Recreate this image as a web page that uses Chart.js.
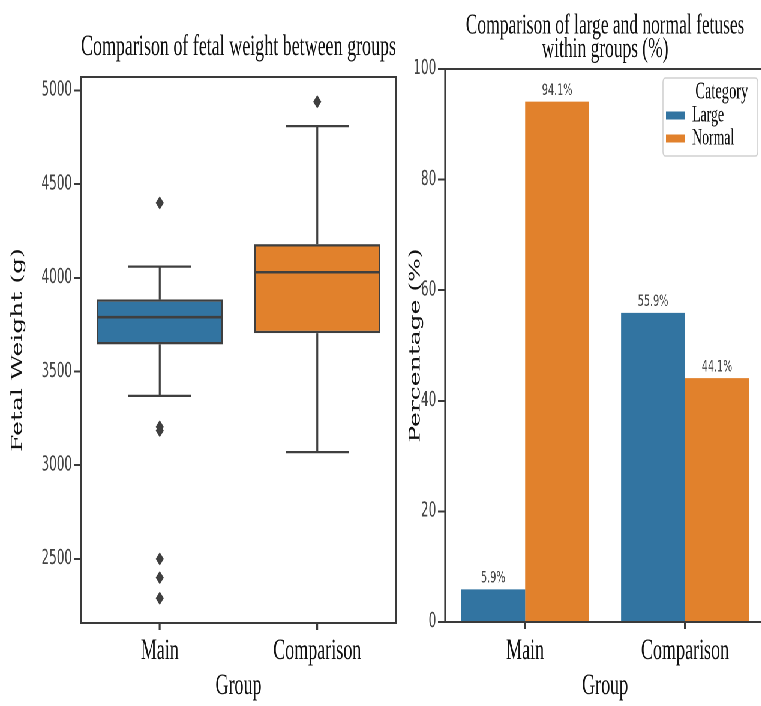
<!DOCTYPE html>
<html>
<head>
<meta charset="utf-8">
<script src="https://cdn.jsdelivr.net/npm/chart.js@4.4.1/dist/chart.umd.min.js"></script>
<style>
  html, body { margin: 0; padding: 0; background: #fff; overflow: hidden; width: 761px; height: 706px; }
  /* the figure is laid out wide and condensed horizontally */
  #figure { position: absolute; left: 0; top: 0; width: 1290px; height: 706px; transform: scaleX(0.6); transform-origin: 0 0; }
  #weightChart { position: absolute; left: 0; top: 0; }
  #shareChart { position: absolute; left: 670px; top: 0; }
</style>
</head>
<body>
<div id="figure">
  <canvas id="weightChart" width="670" height="706"></canvas>
  <canvas id="shareChart" width="620" height="706"></canvas>
</div>
<script>
// ---- data ----
const groups = ['Main', 'Comparison'];

// fetal weight distribution per group (g)
const weightQ1 = [3645, 3705];
const weightMedian = [3790, 4030];
const weightQ3 = [3885, 4180];
const whiskerLow = [3370, 3070];
const whiskerHigh = [4060, 4810];
const mainOutliers = [4400, 3205, 3185, 2500, 2400, 2290];
const comparisonOutliers = [4940];
const weightTicks = [2500, 3000, 3500, 4000, 4500, 5000];

// share of large / normal fetuses per group (%)
const sizeCategories = ['Large', 'Normal'];
const largeShare = [5.9, 55.9];
const normalShare = [94.1, 44.1];
const shareTicks = [0, 20, 40, 60, 80, 100];

// ---- styling ----
const BLUE = '#3274a1';
const ORANGE = '#e1812c';
const EDGE = '#3f3f3f';
const SPINE = '#3a3a3a';
const SERIF = "'Liberation Serif', 'Times New Roman', serif";
const LABEL_SERIF = "'DejaVu Serif', serif";
const SANS = "'DejaVu Sans', sans-serif";

// four-sided axes frame
const frame = {
  id: 'frame',
  afterDatasetsDraw(chart) {
    const { ctx, chartArea: a } = chart;
    const wv = 3.2, wh = 2;
    ctx.save();
    ctx.fillStyle = SPINE;
    ctx.fillRect(a.left - wv / 2, a.top - wh / 2, wv, a.height + wh);
    ctx.fillRect(a.right - wv / 2, a.top - wh / 2, wv, a.height + wh);
    ctx.fillRect(a.left - wv / 2, a.top - wh / 2, a.width + wv, wh);
    ctx.fillRect(a.left - wv / 2, a.bottom - wh / 2, a.width + wv, wh);
    ctx.restore();
  }
};

// whiskers, caps and medians on top of the IQR boxes
const boxDetails = {
  id: 'boxDetails',
  afterDatasetsDraw(chart) {
    const { ctx, scales: { y } } = chart;
    const meta = chart.getDatasetMeta(0);
    const seg = (x1, y1, x2, y2) => { ctx.beginPath(); ctx.moveTo(x1, y1); ctx.lineTo(x2, y2); ctx.stroke(); };
    ctx.save();
    ctx.strokeStyle = EDGE;
    ctx.lineCap = 'butt';
    groups.forEach((g, i) => {
      const bar = meta.data[i];
      const cx = bar.x;
      const half = bar.width / 2;
      const capHalf = half / 2;
      const yQ1 = y.getPixelForValue(weightQ1[i]);
      const yQ3 = y.getPixelForValue(weightQ3[i]);
      const yLo = y.getPixelForValue(whiskerLow[i]);
      const yHi = y.getPixelForValue(whiskerHigh[i]);
      const yMed = y.getPixelForValue(weightMedian[i]);
      ctx.lineWidth = 3.2;
      seg(cx, yQ3, cx, yHi);
      seg(cx, yQ1, cx, yLo);
      ctx.lineWidth = 2.2;
      seg(cx - capHalf, yHi, cx + capHalf, yHi);
      seg(cx - capHalf, yLo, cx + capHalf, yLo);
      ctx.lineWidth = 2.6;
      seg(cx - half + 1, yMed, cx + half - 1, yMed);
    });
    ctx.restore();
  }
};

// percentage labels above each bar
const valueLabels = {
  id: 'valueLabels',
  afterDatasetsDraw(chart) {
    const ctx = chart.ctx;
    ctx.save();
    ctx.font = '16px ' + SANS;
    ctx.fillStyle = '#444';
    ctx.textAlign = 'center';
    ctx.textBaseline = 'middle';
    chart.data.datasets.forEach((ds, di) => {
      chart.getDatasetMeta(di).data.forEach((el, i) => {
        ctx.fillText(ds.data[i].toFixed(1) + '%', el.x, el.y - 11);
      });
    });
    ctx.restore();
  }
};

// legend sits in the upper right corner of the plot, inside a light frame
const legendPlacement = {
  id: 'legendPlacement',
  afterUpdate(chart) {
    const lg = chart.legend;
    const a = chart.chartArea;
    lg.left = a.right - 165;
    lg.top = a.top + 11;
    lg.width = 186;
    lg.height = 76;
    lg.right = lg.left + lg.width;
    lg.bottom = lg.top + lg.height;
  },
  beforeDraw(chart) {
    const lg = chart.legend;
    const ctx = chart.ctx;
    const x = lg.left - 5, y = lg.top - 2, w = 158, h = 78;
    ctx.save();
    ctx.fillStyle = 'rgba(255,255,255,0.85)';
    ctx.strokeStyle = '#d0d0d0';
    ctx.lineWidth = 1.6;
    ctx.beginPath();
    if (ctx.roundRect) ctx.roundRect(x, y, w, h, 4); else ctx.rect(x, y, w, h);
    ctx.fill();
    ctx.stroke();
    ctx.restore();
  }
};

const plainNumber = v => String(v);
const xTickGrid = { display: true, offset: false, drawOnChartArea: false, drawTicks: true, tickLength: 7, lineWidth: 3.2, color: SPINE };
const yTickGrid = { display: true, drawOnChartArea: false, drawTicks: true, tickLength: 12, lineWidth: 2, color: SPINE };

// ---- left: box plot of fetal weight ----
new Chart(document.getElementById('weightChart'), {
  type: 'bar',
  data: {
    labels: groups,
    datasets: [
      {
        label: 'IQR',
        data: groups.map((g, i) => [weightQ1[i], weightQ3[i]]),
        backgroundColor: [BLUE, ORANGE],
        borderColor: EDGE,
        borderWidth: 2.4,
        borderSkipped: false,
        categoryPercentage: 0.8,
        barPercentage: 1.0
      },
      {
        type: 'scatter',
        label: 'Main outliers',
        data: mainOutliers.map(v => ({ x: 'Main', y: v })),
        pointStyle: 'rectRot',
        radius: 6,
        backgroundColor: EDGE,
        borderColor: EDGE,
        borderWidth: 1
      },
      {
        type: 'scatter',
        label: 'Comparison outliers',
        data: comparisonOutliers.map(v => ({ x: 'Comparison', y: v })),
        pointStyle: 'rectRot',
        radius: 6,
        backgroundColor: EDGE,
        borderColor: EDGE,
        borderWidth: 1
      }
    ]
  },
  options: {
    responsive: false,
    devicePixelRatio: 2,
    animation: false,
    layout: { padding: { left: 0, right: 10, top: 0, bottom: 0 } },
    plugins: {
      legend: { display: false },
      tooltip: { enabled: false },
      title: {
        display: true,
        fullSize: false,
        text: 'Comparison of fetal weight between groups',
        font: { family: SERIF, size: 30, weight: 'normal', lineHeight: 1.2 },
        color: '#111',
        padding: { top: 29, bottom: 12 }
      }
    },
    scales: {
      x: {
        type: 'category',
        offset: true,
        grid: xTickGrid,
        border: { display: false },
        ticks: { font: { family: SERIF, size: 30 }, color: '#111', padding: 3 },
        title: { display: true, text: 'Group', font: { family: SERIF, size: 30 }, color: '#111', padding: { top: 0, bottom: 2 } },
        afterFit(s) { s.height = 83; }
      },
      y: {
        min: 2158,
        max: 5072,
        afterBuildTicks(s) { s.ticks = weightTicks.map(v => ({ value: v })); },
        grid: yTickGrid,
        border: { display: false },
        ticks: { font: { family: SANS, size: 20 }, color: '#444', padding: 3, callback: plainNumber },
        title: { display: true, text: 'Fetal Weight (g)', font: { family: LABEL_SERIF, size: 25 }, color: '#111', padding: { top: 15, bottom: 0 } },
        afterFit(s) { s.width = 135; }
      }
    }
  },
  plugins: [boxDetails, frame]
});

// ---- right: grouped bars of size category shares ----
new Chart(document.getElementById('shareChart'), {
  type: 'bar',
  data: {
    labels: groups,
    datasets: [
      { label: sizeCategories[0], data: largeShare, backgroundColor: BLUE, borderWidth: 0, categoryPercentage: 0.8, barPercentage: 1.0 },
      { label: sizeCategories[1], data: normalShare, backgroundColor: ORANGE, borderWidth: 0, categoryPercentage: 0.8, barPercentage: 1.0 }
    ]
  },
  options: {
    responsive: false,
    devicePixelRatio: 2,
    animation: false,
    layout: { padding: { left: 0, right: 15, top: 0, bottom: 0 } },
    plugins: {
      tooltip: { enabled: false },
      title: {
        display: true,
        fullSize: false,
        text: ['Comparison of large and normal fetuses', 'within groups (%)'],
        font: { family: SERIF, size: 29, weight: 'normal', lineHeight: 0.8 },
        color: '#111',
        padding: { top: 14.4, bottom: 8.2 }
      },
      legend: {
        display: true,
        position: 'chartArea',
        align: 'start',
        labels: {
          boxWidth: 32,
          boxHeight: 8,
          padding: 0,
          font: { family: SERIF, size: 23 },
          color: '#111'
        },
        title: {
          display: true,
          text: 'Category',
          font: { family: SERIF, size: 24, lineHeight: 1 },
          color: '#111',
          padding: 0
        }
      }
    },
    scales: {
      x: {
        type: 'category',
        offset: true,
        grid: xTickGrid,
        border: { display: false },
        ticks: { font: { family: SERIF, size: 30 }, color: '#111', padding: 4 },
        title: { display: true, text: 'Group', font: { family: SERIF, size: 30 }, color: '#111', padding: { top: 0, bottom: 2 } },
        afterFit(s) { s.height = 84; }
      },
      y: {
        min: 0,
        max: 100,
        afterBuildTicks(s) { s.ticks = shareTicks.map(v => ({ value: v })); },
        grid: yTickGrid,
        border: { display: false },
        ticks: { font: { family: SANS, size: 20 }, color: '#444', padding: 3, callback: plainNumber },
        title: { display: true, text: 'Percentage (%)', font: { family: LABEL_SERIF, size: 25 }, color: '#111', padding: { top: 8, bottom: 0 } },
        afterFit(s) { s.width = 72; }
      }
    }
  },
  plugins: [valueLabels, legendPlacement, frame]
});
</script>
</body>
</html>
